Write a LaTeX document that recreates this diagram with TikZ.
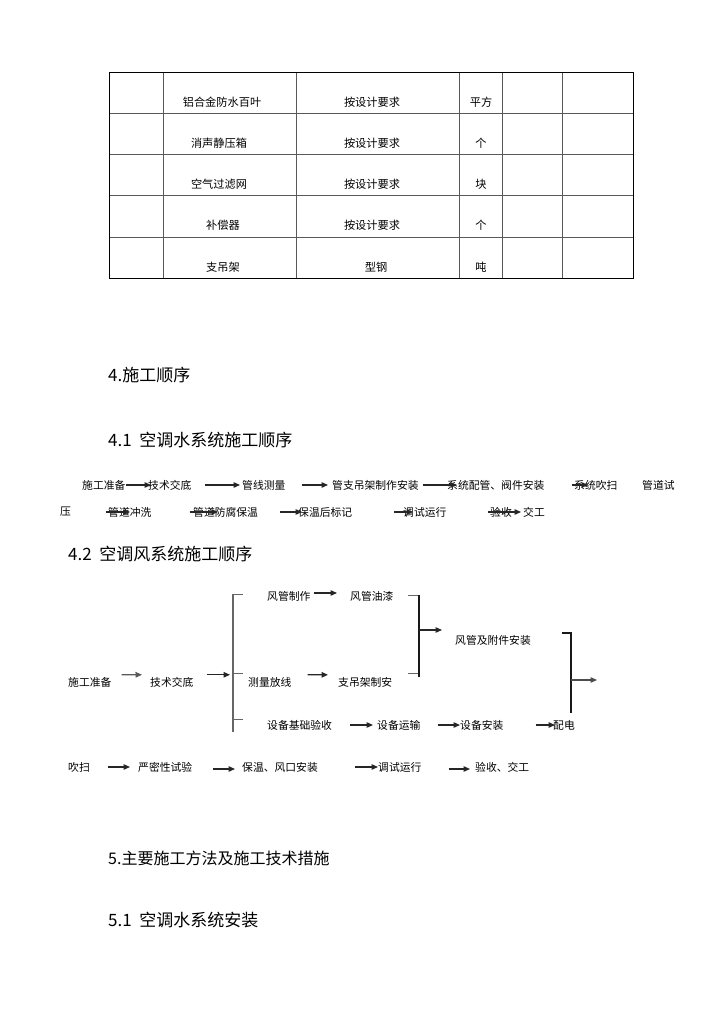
\documentclass[tikz,border=0pt]{standalone}
\usepackage{fontspec}
\newfontfamily\cjk{Noto Sans CJK SC}
\usetikzlibrary{arrows.meta}

\begin{document}
\begin{tikzpicture}[
  x=1pt, y=-1pt,
  font=\cjk,
  txt/.style={inner sep=0pt, anchor=west, font=\cjk\fontsize{10.8}{10.8}\selectfont},
  up/.style={txt, inner ysep=2pt},
  cell/.style={inner sep=0pt, font=\cjk\fontsize{11.2}{11.2}\selectfont},
  head/.style={inner sep=0pt, anchor=west, font=\cjk\fontsize{17}{17}\selectfont},
  arr/.style={-{Triangle[length=6.5pt,width=5.5pt]}, line width=1.3pt, black!85},
  tick/.style={line width=0.8pt, gray!80!black},
  bar/.style={line width=1.6pt, black!90},
  grid/.style={line width=0.7pt, gray!70!black},
  frame/.style={line width=1pt, black},
]
\useasboundingbox[fill=white] (0,0) rectangle (724,1024);
% Table
\draw[grid] (109,113) -- (633,113);
\draw[grid] (109,154) -- (633,154);
\draw[grid, line width=1pt] (109,196) -- (633,196);
\draw[grid] (109,237) -- (633,237);
\draw[grid] (163,73) -- (163,278);
\draw[grid] (296,73) -- (296,278);
\draw[grid] (459,73) -- (459,278);
\draw[grid] (502,73) -- (502,278);
\draw[grid, line width=1pt] (562,73) -- (562,278);
\draw[frame] (109,73) rectangle (633,278);
\node[cell] (r1a) at (222,102) {铝合金防水百叶};
\node[cell] (r1b) at (372,102) {按设计要求};
\node[cell] (r1c) at (481,102) {平方};
\node[cell] (r2a) at (219,143) {消声静压箱};
\node[cell] (r2b) at (372,143) {按设计要求};
\node[cell] (r2c) at (481,143) {个};
\node[cell] (r3a) at (219,184) {空气过滤网};
\node[cell] (r3b) at (372,184) {按设计要求};
\node[cell] (r3c) at (481,184) {块};
\node[cell] (r4a) at (223,225) {补偿器};
\node[cell] (r4b) at (372,225) {按设计要求};
\node[cell] (r4c) at (481,225) {个};
\node[cell] (r5a) at (223,267) {支吊架};
\node[cell] (r5b) at (376,267) {型钢};
\node[cell] (r5c) at (481,267) {吨};
% Headings
\node[head] (h1) at (108,375) {4.施工顺序};
\node[head] (h2) at (108,440) {4.1\ \ 空调水系统施工顺序};
\node[head] (h3) at (68,554) {4.2\ \ 空调风系统施工顺序};
\node[head, font=\cjk\fontsize{16}{16}\selectfont] (h4) at (108,858) {5.主要施工方法及施工技术措施};
\node[head] (h5) at (108,920) {5.1\ \ 空调水系统安装};
% Water system sequence
\node[txt] (w1)  at (82,485)  {施工准备};
\node[txt] (w2)  at (148,485) {技术交底};
\node[txt] (w3)  at (242,485) {管线测量};
\node[txt] (w4)  at (332,485) {管支吊架制作安装};
\node[txt] (w5)  at (447,485) {系统配管、阀件安装};
\node[txt] (w6)  at (574,485) {系统吹扫};
\node[txt] (w7)  at (642,485) {管道试};
\node[txt] (w8)  at (60,512)  {压};
\node[txt] (w9)  at (108,512) {管道冲洗};
\node[txt] (w10) at (193,512) {管道防腐保温};
\node[txt] (w11) at (298,512) {保温后标记};
\node[txt] (w12) at (403,512) {调试运行};
\node[txt] (w13) at (490,512) {验收};
\node[txt] (w14) at (523,512) {交工};
\draw[arr, shorten >=-3pt] (w1) -- (w2);
\draw[arr, shorten <=13pt, shorten >=2pt] (w2) -- (w3);
\draw[arr, shorten <=16pt, shorten >=4pt] (w3) -- (w4);
\draw[arr, shorten <=4pt, shorten >=-10pt] (w4) -- (w5);
\draw[arr, shorten <=27pt, shorten >=-14pt] (w5) -- (w6);
\draw[arr, shorten <=35pt, shorten >=-22pt] (w8) -- (w9);
\draw[arr, shorten <=38pt, shorten >=-25pt] (w9) -- (w10);
\draw[arr, shorten <=22pt, shorten >=-4pt] (w10) -- (w11);
\draw[arr, shorten <=42pt, shorten >=-10pt] (w11) -- (w12);
\draw[arr, shorten <=-2pt, shorten >=2pt] (w13.west) -- (w14.west);
% Air system sequence
\node[up]  (a1)  at (68,682)  {施工准备};
\node[up]  (a2)  at (150,682) {技术交底};
\node[txt] (a3)  at (267,596) {风管制作};
\node[txt] (a4)  at (350,596) {风管油漆};
\node[txt] (a5)  at (455,640) {风管及附件安装};
\node[up]  (a6)  at (248,682) {测量放线};
\node[up]  (a7)  at (338,682) {支吊架制安};
\node[txt] (a8)  at (267,725) {设备基础验收};
\node[txt] (a9)  at (377,725) {设备运输};
\node[txt] (a10) at (460,725) {设备安装};
\node[txt] (a11) at (553,725) {配电};
\coordinate (bL)  at (233,674);
\coordinate (bR1) at (419,630);
\coordinate (bR2) at (571,680);
\coordinate (out) at (597,680);
% brackets
\draw[tick, line width=1.1pt] (233,594) -- (233,732);
\draw[tick] (233,594) -- (243,594);
\draw[tick] (233,673) -- (243,673);
\draw[tick] (233,719) -- (243,719);
\draw[tick] (408,595) -- (419,595);
\draw[tick] (408,673) -- (419,673);
\draw[bar] (419,595) -- (419,677);
\draw[bar] (562,633) -- (571,633) -- (571,713);
% arrows
\draw[arr, gray!70!black, shorten <=10pt, shorten >=8pt] (a1.north east) -- (a2.north west);
\draw[arr, shorten <=13pt, shorten >=3pt] (a2.north east) -- (a2.north east -| bL);
\draw[arr, shorten <=3pt, shorten >=13pt] ([yshift=3pt]a3.east) -- ([yshift=3pt]a4.west);
\draw[arr, shorten <=16pt, shorten >=10pt] (a6.north east) -- (a7.north west);
\draw[arr, shorten >=13pt] (bR1) -- (bR1 -| a5.west);
\draw[arr, gray!60!black] (bR2) -- (out);
\draw[arr, shorten <=18pt, shorten >=4pt] (a8) -- (a9);
\draw[arr, shorten <=17pt] (a9) -- (a10);
\draw[arr, shorten <=32pt, shorten >=-2pt] (a10) -- (a11);
% Final sequence
\node[txt] (b1) at (68,767)  {吹扫};
\node[txt] (b2) at (138,767) {严密性试验};
\node[txt] (b3) at (242,767) {保温、风口安装};
\node[txt] (b4) at (378,767) {调试运行};
\node[txt] (b5) at (475,767) {验收、交工};
\draw[arr, shorten <=18pt, shorten >=8pt] (b1) -- (b2);
\draw[arr, shorten <=21pt, shorten >=7pt] ([yshift=-2pt]b2.east) -- ([yshift=-2pt]b3.west);
\draw[arr, shorten <=37pt] (b3) -- (b4);
\draw[arr, shorten <=27pt, shorten >=5pt] ([yshift=-2pt]b4.east) -- ([yshift=-2pt]b5.west);
\end{tikzpicture}
\end{document}
